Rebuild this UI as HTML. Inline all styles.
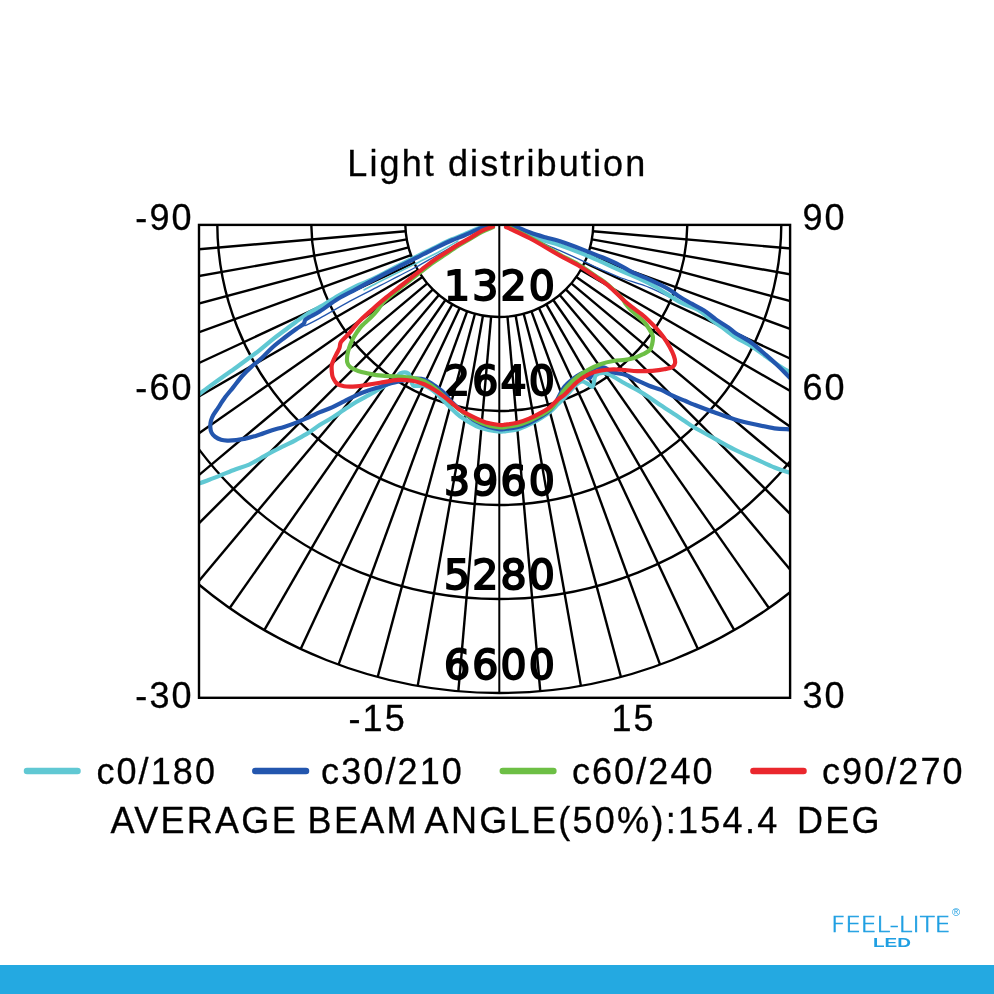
<!DOCTYPE html>
<html><head><meta charset="utf-8"><style>
html,body{margin:0;padding:0;background:#fff;width:994px;height:994px;overflow:hidden}
svg{position:absolute;left:0;top:0;will-change:transform}
.t{font-family:"Liberation Sans",Arial,sans-serif;font-size:36px;letter-spacing:2.1px;fill:#000;stroke:#000;stroke-width:0.3px}
.m{font-family:"DejaVu Sans","Liberation Sans",sans-serif;font-size:41px;fill:#000;stroke:#000;stroke-width:1.9;letter-spacing:2.2px}
.bar{position:absolute;left:0;top:965px;width:994px;height:29px;background:#24a9e1}
</style></head><body>
<svg width="994" height="994" viewBox="0 0 994 994">
<defs><clipPath id="bx"><rect x="199.0" y="224.9" width="591.1" height="472.9"/></clipPath></defs>
<g clip-path="url(#bx)" stroke="#000" stroke-width="2.4" fill="none">
<line x1="405.66" y1="231.19" x2="31.09" y2="263.96"/>
<line x1="406.73" y1="239.32" x2="36.44" y2="304.61"/>
<line x1="408.50" y1="247.33" x2="45.31" y2="344.64"/>
<line x1="410.97" y1="255.15" x2="57.64" y2="383.75"/>
<line x1="414.11" y1="262.73" x2="73.34" y2="421.63"/>
<line x1="417.89" y1="270.00" x2="92.27" y2="458.00"/>
<line x1="422.30" y1="276.92" x2="114.30" y2="492.58"/>
<line x1="427.29" y1="283.42" x2="139.26" y2="525.11"/>
<line x1="432.83" y1="289.47" x2="166.96" y2="555.34"/>
<line x1="438.88" y1="295.01" x2="197.19" y2="583.04"/>
<line x1="445.38" y1="300.00" x2="229.72" y2="608.00"/>
<line x1="452.30" y1="304.41" x2="264.30" y2="630.03"/>
<line x1="459.57" y1="308.19" x2="300.67" y2="648.96"/>
<line x1="467.15" y1="311.33" x2="338.55" y2="664.66"/>
<line x1="474.97" y1="313.80" x2="377.66" y2="676.99"/>
<line x1="482.98" y1="315.57" x2="417.69" y2="685.86"/>
<line x1="491.11" y1="316.64" x2="458.34" y2="691.21"/>
<line x1="507.49" y1="316.64" x2="540.26" y2="691.21"/>
<line x1="515.62" y1="315.57" x2="580.91" y2="685.86"/>
<line x1="523.63" y1="313.80" x2="620.94" y2="676.99"/>
<line x1="531.45" y1="311.33" x2="660.05" y2="664.66"/>
<line x1="539.03" y1="308.19" x2="697.93" y2="648.96"/>
<line x1="546.30" y1="304.41" x2="734.30" y2="630.03"/>
<line x1="553.22" y1="300.00" x2="768.88" y2="608.00"/>
<line x1="559.72" y1="295.01" x2="801.41" y2="583.04"/>
<line x1="565.77" y1="289.47" x2="831.64" y2="555.34"/>
<line x1="571.31" y1="283.42" x2="859.34" y2="525.11"/>
<line x1="576.30" y1="276.92" x2="884.30" y2="492.58"/>
<line x1="580.71" y1="270.00" x2="906.33" y2="458.00"/>
<line x1="584.49" y1="262.73" x2="925.26" y2="421.63"/>
<line x1="587.63" y1="255.15" x2="940.96" y2="383.75"/>
<line x1="590.10" y1="247.33" x2="953.29" y2="344.64"/>
<line x1="591.87" y1="239.32" x2="962.16" y2="304.61"/>
<line x1="592.94" y1="231.19" x2="967.51" y2="263.96"/>
<line x1="499.3" y1="224.9" x2="499.3" y2="693.0" stroke-width="2"/>
<circle cx="499.3" cy="223.0" r="94"/>
<circle cx="499.3" cy="223.0" r="188"/>
<circle cx="499.3" cy="223.0" r="282"/>
<circle cx="499.3" cy="223.0" r="376"/>
<circle cx="499.3" cy="223.0" r="470"/>
</g>
<g class="m" text-anchor="middle">
<text x="500.6" y="299.5" >1320</text>
<text x="500.6" y="394.5" >2640</text>
<text x="500.6" y="495" >3960</text>
<text x="500.6" y="589" >5280</text>
<text x="500.6" y="679" >6600</text>
</g>
<g clip-path="url(#bx)" fill="none" stroke-width="4.2" stroke-linejoin="round" stroke-linecap="round">
<path d="M458.0,241.0 C455.0,242.7 447.0,247.5 440.0,251.2 C433.0,254.9 423.2,259.8 416.2,263.4 C409.2,266.9 404.0,269.5 398.0,272.5 C392.0,275.5 385.7,278.6 380.0,281.5 C374.3,284.4 366.7,288.6 364.0,290.0" stroke="#60c8d3" stroke-width="1.6"/>
<path d="M468.0,238.0 C463.3,240.6 448.6,248.7 440.0,253.5 C431.4,258.3 423.2,263.2 416.2,267.0 C409.2,270.8 404.0,273.2 398.0,276.3 C392.0,279.4 388.0,281.6 380.0,285.7 C372.0,289.8 360.0,295.7 350.0,301.1 C340.0,306.5 327.4,314.1 320.0,318.1 C312.6,322.1 308.6,324.2 305.9,325.3 C303.1,326.4 303.9,324.6 303.5,324.5" stroke="#2356ae" stroke-width="1.3"/>
<path d="M525.0,234.0 C528.3,235.7 539.2,241.2 545.0,244.0 C550.8,246.8 553.5,247.8 560.0,250.7 C566.5,253.6 577.1,258.4 584.1,261.6 C591.1,264.8 596.2,267.4 602.2,270.0 C608.2,272.6 612.0,274.5 620.0,277.5 C628.0,280.5 640.2,283.7 650.2,287.8 C660.2,291.9 672.7,298.9 680.0,302.2 C687.3,305.5 691.7,306.6 694.0,307.5" stroke="#2356ae" stroke-width="1.3"/>
<path d="M487.0,225.5 C485.2,226.1 479.8,227.7 476.0,229.2 C472.2,230.7 468.0,232.8 464.0,234.5 C460.0,236.2 456.0,237.6 452.0,239.3 C448.0,241.0 444.0,242.9 440.0,244.8 C436.0,246.7 432.0,248.8 428.0,250.8 C424.0,252.8 421.0,254.3 416.0,256.8 C411.0,259.3 404.0,262.7 398.0,265.8 C392.0,268.9 385.5,272.5 380.0,275.3 C374.5,278.1 369.0,280.7 365.0,282.5 C361.0,284.3 360.7,283.9 356.2,286.1 C351.7,288.3 344.1,292.3 338.1,295.8 C332.1,299.3 325.0,304.0 320.0,306.9 C315.0,309.8 312.3,310.8 308.3,313.3 C304.3,315.8 300.2,318.8 296.2,321.7 C292.2,324.6 288.1,327.8 284.1,330.8 C280.1,333.8 276.1,336.6 272.1,339.8 C268.1,343.0 264.0,346.6 260.0,349.8 C256.0,353.0 252.0,355.9 248.0,358.8 C244.0,361.8 241.2,363.9 236.2,367.5 C231.2,371.1 224.1,375.9 218.1,380.2 C212.1,384.5 204.7,390.1 200.0,393.5 C195.3,396.9 191.7,399.3 190.0,400.5" stroke="#60c8d3"/>
<path d="M190.0,486.0 C191.6,485.5 196.5,484.2 199.7,483.2 C202.9,482.2 205.5,481.2 209.3,479.8 C213.1,478.4 218.2,476.3 222.6,474.5 C227.0,472.7 231.4,470.8 235.8,469.2 C240.2,467.6 244.9,466.5 249.1,464.6 C253.3,462.7 257.2,460.1 261.0,458.0 C264.8,455.9 268.2,453.9 272.1,451.9 C276.0,449.9 280.1,447.9 284.1,445.9 C288.1,443.9 292.2,442.0 296.2,439.8 C300.2,437.6 304.3,435.4 308.3,432.9 C312.3,430.4 316.0,427.3 320.0,424.8 C324.0,422.3 328.1,420.2 332.1,417.7 C336.1,415.2 340.1,412.4 344.1,409.8 C348.1,407.2 352.2,404.4 356.2,402.0 C360.2,399.6 364.3,397.5 368.3,395.3 C372.3,393.1 376.6,390.7 380.0,388.7 C383.4,386.7 387.5,384.4 389.0,383.5" stroke="#60c8d3"/>
<path d="M389.0,383.5 C390.2,382.6 394.1,379.7 396.0,378.0 C397.9,376.3 398.5,374.0 400.5,373.2 C402.5,372.4 406.2,372.1 408.0,373.2 C409.8,374.3 410.2,378.0 411.0,380.0 C411.8,382.0 411.8,384.3 413.0,385.3 C414.2,386.3 416.2,385.9 418.0,386.0 C419.8,386.1 422.0,385.2 424.0,385.6 C426.0,386.0 428.0,387.2 430.0,388.5 C432.0,389.8 433.1,390.5 436.2,393.3 C439.2,396.1 444.3,401.7 448.3,405.5 C452.3,409.3 455.4,412.9 460.0,416.3 C464.6,419.7 471.5,423.7 476.2,426.0 C480.9,428.3 484.3,429.0 488.3,429.9 C492.3,430.8 497.2,431.4 500.0,431.6 C502.8,431.8 502.1,431.7 505.0,431.3 C507.9,430.9 513.1,430.6 517.1,429.5 C521.1,428.4 525.1,426.6 529.1,424.7 C533.1,422.8 537.7,420.1 541.2,418.0 C544.7,415.9 547.2,414.3 550.0,412.0 C552.8,409.7 555.3,406.7 558.0,404.0 C560.7,401.3 563.2,399.0 566.0,396.0 C568.8,393.0 572.3,388.4 575.0,386.0 C577.7,383.6 579.8,381.8 582.0,381.5 C584.2,381.2 586.2,383.2 588.0,384.0 C589.8,384.8 591.5,387.8 592.8,386.3 C594.1,384.9 593.9,377.5 595.8,375.3 C597.7,373.1 601.3,372.7 604.2,372.9 C607.1,373.1 609.8,374.8 613.3,376.6 C616.8,378.4 621.0,381.3 625.0,383.5 C629.0,385.7 633.1,387.6 637.1,389.9 C641.1,392.2 645.1,394.6 649.1,397.2 C653.1,399.8 657.2,402.9 661.2,405.6 C665.2,408.3 669.3,410.9 673.3,413.5 C677.3,416.1 681.5,419.0 685.0,421.3 C688.5,423.6 689.1,424.5 694.0,427.3 C698.9,430.1 707.4,434.7 714.1,438.4 C720.8,442.1 727.5,446.0 734.2,449.4 C740.9,452.8 747.7,455.5 754.4,458.5 C761.1,461.5 768.7,465.1 774.5,467.5 C780.3,469.9 785.5,471.5 789.1,472.6 C792.7,473.7 794.9,473.8 796.0,474.0" stroke="#60c8d3"/>
<path d="M796.0,372.5 C794.6,372.2 790.9,372.1 787.9,370.9 C784.9,369.6 781.6,367.4 778.0,365.0 C774.4,362.6 770.5,359.7 766.0,356.5 C761.5,353.3 756.1,349.2 751.1,346.0 C746.1,342.8 740.8,340.6 736.0,337.5 C731.2,334.4 726.5,330.5 722.2,327.4 C717.9,324.3 714.2,321.9 710.2,319.0 C706.2,316.1 703.1,312.7 698.1,309.9 C693.1,307.1 687.0,305.9 680.0,302.1 C673.0,298.3 663.2,291.2 656.2,287.2 C649.2,283.2 644.1,280.9 638.1,278.1 C632.1,275.3 626.0,273.0 620.0,270.3 C614.0,267.6 608.2,264.9 602.2,262.2 C596.2,259.5 591.1,257.1 584.1,254.3 C577.1,251.5 567.0,247.7 560.0,245.3 C553.0,242.9 547.5,241.7 542.2,239.8 C536.9,237.9 532.7,236.0 528.0,234.0 C523.3,232.0 516.8,229.3 514.0,228.0 C511.2,226.7 511.5,226.6 511.0,226.3" stroke="#60c8d3"/>
<path d="M487.1,225.9 C485.3,226.6 480.0,228.5 476.2,230.1 C472.4,231.7 468.1,233.8 464.1,235.5 C460.1,237.2 456.1,238.6 452.1,240.3 C448.1,242.0 444.0,243.9 440.0,245.8 C436.0,247.7 432.0,249.8 428.0,251.8 C424.0,253.8 421.2,255.4 416.2,257.9 C411.2,260.4 404.1,263.9 398.1,267.0 C392.1,270.1 387.0,272.6 380.0,276.3 C373.0,280.0 363.2,285.4 356.2,289.1 C349.2,292.9 344.1,295.1 338.1,298.8 C332.1,302.5 324.7,308.2 320.0,311.2 C315.3,314.2 312.4,315.4 310.0,316.8 C307.6,318.2 306.4,318.7 305.3,319.9 C304.2,321.1 305.0,322.6 303.5,324.1 C302.0,325.6 299.4,326.7 296.2,329.0 C293.0,331.3 288.1,334.9 284.1,338.0 C280.1,341.1 275.9,344.3 272.1,347.7 C268.3,351.1 265.0,355.1 261.5,358.3 C258.0,361.5 254.5,363.9 251.3,366.9 C248.1,369.8 245.2,372.6 242.2,376.0 C239.2,379.4 236.0,383.9 233.2,387.4 C230.4,390.9 227.8,393.7 225.3,397.1 C222.8,400.5 220.1,404.8 218.1,407.8 C216.1,410.8 214.5,412.9 213.3,415.1 C212.1,417.3 211.4,419.1 210.9,421.1 C210.4,423.1 210.2,425.3 210.3,427.2 C210.4,429.1 210.7,431.0 211.5,432.6 C212.3,434.2 213.5,435.6 215.1,436.8 C216.7,438.0 219.1,439.2 221.1,439.8 C223.1,440.4 224.7,440.5 227.2,440.6 C229.7,440.7 233.2,440.5 236.2,440.2 C239.2,439.9 242.3,439.2 245.3,438.6 C248.3,438.0 251.9,437.0 254.3,436.3 C256.8,435.6 257.0,435.6 260.0,434.6 C263.0,433.6 268.1,431.5 272.1,430.2 C276.1,428.9 280.1,428.2 284.1,426.9 C288.1,425.6 292.2,424.2 296.2,422.6 C300.2,421.0 304.3,419.2 308.3,417.5 C312.3,415.8 316.0,413.8 320.0,412.1 C324.0,410.4 328.1,409.2 332.1,407.4 C336.1,405.6 340.1,403.4 344.1,401.4 C348.1,399.4 352.2,397.1 356.2,395.3 C360.2,393.5 364.3,391.9 368.3,390.5 C372.3,389.1 376.1,388.1 380.0,386.9 C383.9,385.6 387.8,384.1 392.0,383.0 C396.2,381.9 401.3,380.9 405.0,380.2 C408.7,379.5 410.8,378.9 414.0,378.8 C417.2,378.7 420.4,378.2 424.1,379.5 C427.8,380.8 432.8,384.4 436.2,386.7 C439.6,389.0 442.1,390.8 444.7,393.4 C447.3,396.0 448.8,399.1 452.0,402.3 C455.2,405.5 460.0,409.6 464.0,412.8 C468.0,416.0 472.2,419.2 476.2,421.5 C480.2,423.8 484.0,425.5 488.0,426.8 C492.0,428.1 497.2,429.0 500.0,429.3 C502.8,429.6 502.2,429.2 505.0,428.9 C507.8,428.6 513.0,428.3 517.0,427.3 C521.0,426.3 525.0,424.8 529.0,423.0 C533.0,421.2 537.5,418.7 541.0,416.5 C544.5,414.3 547.3,412.8 550.0,410.0 C552.7,407.2 554.5,404.0 557.0,400.0 C559.5,396.0 561.6,390.2 565.0,386.2 C568.4,382.2 573.3,378.6 577.1,376.0 C580.9,373.4 584.7,371.9 588.0,370.5 C591.3,369.1 594.3,368.0 597.0,367.5 C599.7,367.0 601.5,366.7 604.2,367.5 C606.9,368.3 609.8,371.1 613.3,372.3 C616.8,373.5 621.0,373.5 625.0,374.8 C629.0,376.1 633.1,378.5 637.1,380.3 C641.1,382.1 645.1,384.1 649.1,385.7 C653.1,387.3 657.2,388.2 661.2,389.9 C665.2,391.6 669.3,394.2 673.3,396.0 C677.3,397.8 681.5,399.4 685.0,400.8 C688.5,402.2 689.1,402.7 694.0,404.6 C698.9,406.5 707.4,409.8 714.1,412.2 C720.8,414.6 727.5,417.2 734.2,419.2 C740.9,421.2 747.7,422.8 754.4,424.3 C761.1,425.8 768.7,427.5 774.5,428.3 C780.3,429.1 785.5,429.1 789.1,429.3 C792.7,429.5 794.9,429.5 796.0,429.5" stroke="#2356ae"/>
<path d="M796.0,383.5 C794.9,382.4 792.1,379.8 789.1,376.9 C786.1,374.0 782.0,369.6 778.2,366.0 C774.4,362.4 770.7,359.1 766.2,355.2 C761.7,351.3 756.1,346.1 751.1,342.5 C746.1,338.9 739.8,335.9 736.0,333.4 C732.2,330.9 731.6,329.7 728.3,327.4 C725.0,325.1 720.2,322.4 716.2,319.6 C712.2,316.8 708.1,313.1 704.1,310.5 C700.1,307.9 696.1,306.1 692.1,303.9 C688.1,301.6 684.0,299.5 680.0,297.0 C676.0,294.5 673.3,291.9 668.3,289.0 C663.3,286.1 656.2,282.7 650.2,279.9 C644.2,277.1 637.1,274.5 632.1,272.1 C627.1,269.7 625.0,267.8 620.0,265.3 C615.0,262.8 608.2,259.8 602.2,257.3 C596.2,254.8 591.1,252.8 584.1,250.1 C577.1,247.4 566.5,243.4 560.0,241.3 C553.5,239.2 550.3,238.8 545.3,237.3 C540.3,235.8 535.2,234.3 530.2,232.5 C525.2,230.7 518.1,227.7 515.1,226.5 C512.1,225.3 512.5,225.8 512.0,225.6" stroke="#2356ae"/>
<path d="M586.0,376.0 C586.6,376.4 588.3,379.2 589.5,378.5 C590.7,377.8 592.4,373.1 593.0,372.0" stroke="#2356ae"/>
<path d="M493.0,227.2 C491.2,228.0 485.8,229.8 482.0,231.8 C478.2,233.8 474.0,236.6 470.0,239.0 C466.0,241.4 462.0,243.5 458.0,246.0 C454.0,248.5 450.0,251.3 446.0,254.0 C442.0,256.7 438.0,259.2 434.0,262.0 C430.0,264.8 426.0,267.9 422.0,271.0 C418.0,274.1 413.7,277.5 410.0,280.3 C406.3,283.1 403.3,285.3 400.0,288.0 C396.7,290.7 392.8,293.9 390.0,296.3 C387.2,298.7 385.1,300.2 383.0,302.6 C380.9,305.0 379.0,308.2 377.2,310.5 C375.4,312.8 374.5,313.8 372.0,316.3 C369.5,318.8 364.6,322.9 362.1,325.5 C359.6,328.1 358.6,329.8 357.0,332.2 C355.4,334.6 353.5,337.5 352.2,340.1 C350.9,342.7 349.9,345.4 349.1,347.9 C348.3,350.4 347.6,352.8 347.3,355.2 C347.0,357.6 346.8,360.4 347.3,362.4 C347.8,364.4 348.5,365.8 350.3,367.2 C352.1,368.6 355.4,369.9 358.2,370.9 C361.0,371.9 364.2,372.6 367.2,373.3 C370.2,374.0 373.3,374.7 376.3,375.1 C379.3,375.5 381.4,375.6 385.0,375.9 C388.6,376.1 393.6,376.3 398.1,376.6 C402.6,376.9 407.8,377.1 412.1,377.9 C416.4,378.7 420.8,379.9 424.1,381.3 C427.4,382.7 429.4,384.1 432.0,386.0 C434.6,387.9 436.7,389.6 440.0,392.5 C443.3,395.4 448.0,400.1 452.0,403.5 C456.0,406.9 460.0,410.0 464.0,412.8 C468.0,415.6 472.0,418.2 476.0,420.3 C480.0,422.4 484.0,424.0 488.0,425.2 C492.0,426.4 497.2,427.0 500.0,427.3 C502.8,427.6 502.2,427.5 505.0,427.1 C507.8,426.8 513.0,426.2 517.0,425.2 C521.0,424.2 525.0,422.7 529.0,421.0 C533.0,419.3 537.5,416.9 541.0,415.0 C544.5,413.1 547.3,411.8 550.0,409.5 C552.7,407.2 554.5,404.9 557.0,401.5 C559.5,398.1 561.6,393.2 565.0,389.2 C568.4,385.1 573.1,380.5 577.1,377.2 C581.1,373.9 585.1,371.5 589.1,369.3 C593.1,367.1 597.2,365.3 601.2,363.9 C605.2,362.5 609.3,361.7 613.3,361.0 C617.3,360.3 621.5,360.3 625.0,359.8 C628.5,359.3 631.1,358.9 634.1,358.0 C637.1,357.1 640.5,355.5 643.1,354.2 C645.7,352.9 648.2,351.7 649.7,350.0 C651.2,348.3 651.7,346.3 652.2,344.0 C652.7,341.7 653.3,338.6 652.8,336.1 C652.3,333.6 650.5,331.2 649.1,328.9 C647.7,326.6 646.3,324.4 644.3,322.2 C642.3,320.0 639.5,317.7 637.1,315.5 C634.7,313.3 631.9,310.9 630.0,309.0 C628.1,307.1 627.4,306.2 626.0,304.3 C624.6,302.4 624.5,301.0 621.5,297.8 C618.5,294.6 612.5,288.6 608.3,285.0 C604.1,281.4 601.2,279.8 596.2,276.4 C591.2,272.9 584.1,267.9 578.1,264.3 C572.1,260.7 566.0,258.1 560.0,254.8 C554.0,251.5 547.2,247.2 542.2,244.3 C537.2,241.4 534.2,239.7 530.2,237.6 C526.2,235.5 522.0,233.4 518.1,231.6 C514.2,229.8 508.9,227.4 507.0,226.6" stroke="#6dbf45"/>
<path d="M493.0,226.6 C491.2,227.3 486.0,228.8 482.2,230.7 C478.4,232.6 474.2,235.6 470.2,237.9 C466.2,240.2 462.1,242.2 458.1,244.6 C454.1,247.0 450.0,249.8 446.0,252.4 C442.0,255.0 438.0,257.4 434.0,260.2 C430.0,263.0 426.0,266.2 422.0,269.3 C418.0,272.4 413.7,275.8 410.0,278.7 C406.3,281.6 403.7,283.6 400.0,286.5 C396.3,289.4 392.3,292.4 388.0,296.0 C383.7,299.6 378.4,304.0 374.1,307.8 C369.8,311.6 365.5,315.3 362.1,318.6 C358.7,321.9 355.5,325.5 353.5,327.8 C351.5,330.1 351.7,330.6 350.3,332.2 C348.9,333.8 346.5,336.0 344.9,337.7 C343.3,339.4 341.6,340.8 340.7,342.5 C339.8,344.2 340.1,346.2 339.5,347.9 C338.9,349.6 338.0,351.0 337.1,352.8 C336.2,354.6 335.0,356.8 334.1,358.8 C333.2,360.8 332.2,362.7 331.8,364.8 C331.4,366.9 331.6,369.4 331.8,371.5 C332.0,373.6 332.0,375.5 332.9,377.5 C333.8,379.5 335.0,382.0 336.9,383.5 C338.8,385.0 340.9,385.8 344.1,386.3 C347.3,386.8 352.2,386.7 356.2,386.4 C360.2,386.1 364.3,385.2 368.3,384.6 C372.3,384.0 375.0,383.6 380.0,382.8 C385.0,382.0 392.8,380.2 398.1,379.9 C403.5,379.5 407.8,380.0 412.1,380.7 C416.4,381.4 420.1,382.6 424.1,384.3 C428.1,386.0 432.2,388.4 436.2,391.0 C440.2,393.6 444.3,396.9 448.3,400.0 C452.3,403.1 455.4,406.6 460.0,409.7 C464.6,412.8 471.5,416.1 476.2,418.3 C480.9,420.5 484.3,422.0 488.3,423.1 C492.3,424.2 497.2,424.7 500.0,425.0 C502.8,425.3 502.1,425.1 505.0,424.7 C507.9,424.3 513.1,423.8 517.1,422.8 C521.1,421.8 525.1,420.3 529.1,418.6 C533.1,416.9 537.7,414.6 541.2,412.6 C544.7,410.6 547.5,409.0 550.3,406.8 C553.1,404.6 555.5,401.4 558.0,399.3 C560.5,397.2 561.8,397.2 565.0,394.3 C568.2,391.4 573.1,385.4 577.1,382.0 C581.1,378.6 585.1,376.0 589.1,374.1 C593.1,372.2 597.2,371.3 601.2,370.5 C605.2,369.7 609.3,369.4 613.3,369.3 C617.3,369.2 621.0,369.7 625.0,370.0 C629.0,370.3 632.6,371.0 637.1,371.1 C641.6,371.2 647.7,371.1 652.2,370.8 C656.7,370.5 660.8,370.0 664.2,369.3 C667.6,368.6 670.9,368.0 672.7,366.9 C674.5,365.8 674.9,364.5 675.1,362.7 C675.3,360.9 674.8,358.6 673.9,356.0 C673.0,353.4 671.4,350.1 669.7,347.0 C668.0,343.9 665.8,340.4 663.6,337.3 C661.4,334.2 658.8,331.0 656.4,328.3 C654.0,325.6 651.6,323.4 649.1,321.0 C646.6,318.6 644.3,316.5 641.5,314.2 C638.7,311.9 635.0,309.4 632.1,307.1 C629.2,304.8 628.0,304.1 624.0,300.5 C620.0,296.9 612.9,289.6 608.3,285.7 C603.7,281.8 601.2,280.6 596.2,277.2 C591.2,273.8 584.1,268.8 578.1,265.2 C572.1,261.6 566.0,259.0 560.0,255.7 C554.0,252.4 547.2,248.1 542.2,245.2 C537.2,242.3 534.2,240.6 530.2,238.5 C526.2,236.4 522.1,234.4 518.1,232.5 C514.1,230.6 508.0,227.9 506.0,227.0" stroke="#ea272d"/>
</g>
<rect x="199.0" y="224.9" width="591.1" height="472.9" fill="none" stroke="#000" stroke-width="2.4"/>
<g class="t">
<text x="347.3" y="175.6">Light distribution</text>
<text x="135.3" y="230">-90</text>
<text x="802.5" y="230">90</text>
<text x="135.3" y="400">-60</text>
<text x="802.5" y="400">60</text>
<text x="135.3" y="708">-30</text>
<text x="802.5" y="708">30</text>
<text x="348.5" y="731">-15</text>
<text x="611.5" y="731">15</text>
<text x="96.4" y="784">c0/180</text>
<text x="321.1" y="784">c30/210</text>
<text x="571.9" y="784">c60/240</text>
<text x="821.9" y="784">c90/270</text>
<text y="833" letter-spacing="2.3"><tspan x="110.5">AVERAGE</tspan> <tspan x="307.6">BEAM</tspan> <tspan x="424.6">ANGLE(50%):154.4</tspan>&#160; <tspan x="797">DEG</tspan></text>
</g>
<g stroke-width="6.5" stroke-linecap="round">
<line x1="27" y1="771" x2="77.5" y2="771" stroke="#60c8d3"/>
<line x1="255.3" y1="771" x2="306" y2="771" stroke="#2356ae"/>
<line x1="502.8" y1="771" x2="553.4" y2="771" stroke="#6dbf45"/>
<line x1="753.4" y1="771" x2="803.5" y2="771" stroke="#ea272d"/>
</g>
<g fill="#1f9fe2" font-family="'Liberation Sans',Arial,sans-serif">
<text x="831" y="932" font-size="22" font-family="'DejaVu Sans',sans-serif" font-weight="200" stroke="#1f9fe2" stroke-width="0.7" textLength="119.5" lengthAdjust="spacingAndGlyphs">FEEL-LITE</text>
<text x="873" y="947.3" font-size="11.9" font-weight="bold" textLength="38" lengthAdjust="spacingAndGlyphs">LED</text>
<text x="952" y="915.5" font-size="11">&#174;</text>
</g>
</svg>
<div class="bar"></div>
</body></html>
